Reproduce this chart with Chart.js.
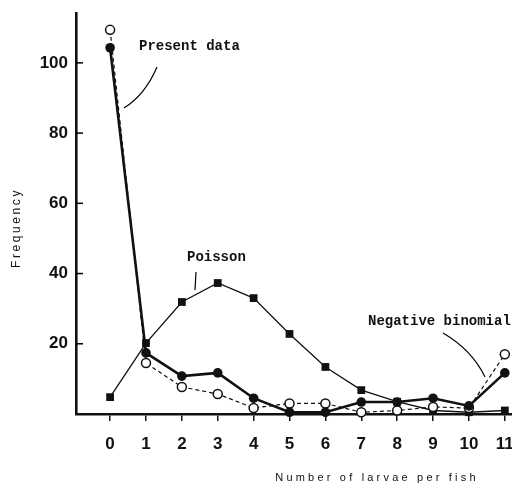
<!DOCTYPE html>
<html>
<head>
<meta charset="utf-8">
<script src="https://cdn.jsdelivr.net/npm/chart.js@4/dist/chart.umd.min.js"></script>
<style>
  html, body { margin: 0; padding: 0; background: #fff; overflow: hidden; }
  #chart { display: block; }
</style>
</head>
<body>
<canvas id="chart" width="518" height="487"></canvas>
<script>
// --- DATA ---
const larvae = [0, 1, 2, 3, 4, 5, 6, 7, 8, 9, 10, 11];
const presentData = [104.3, 17.4, 10.8, 11.7, 4.5, 0.5, 0.5, 3.4, 3.4, 4.5, 2.3, 11.7];
const negBinomial = [109.4, 14.5, 7.7, 5.7, 1.7, 3.0, 3.0, 0.5, 1.0, 2.0, 1.7, 17.0];
const poisson = [4.8, 20.2, 31.9, 37.3, 33.0, 22.8, 13.4, 6.8, 3.5, 1.0, 0.5, 1.0];
const yTicks = [20, 40, 60, 80, 100];
const xTicks = larvae;

const toPoints = (vals) => vals.map((v, i) => ({ x: larvae[i], y: v }));

// Helper: draw spaced text (axis titles look typewritten)
function spacedText(ctx, text, x, y, spacing) {
    ctx.letterSpacing = spacing + 'px';
    ctx.fillText(text, x, y);
    ctx.letterSpacing = '0px';
}

// Inside ticks on the y axis, annotations and axis titles
const decorations = {
    id: 'decorations',
    afterDraw(chart) {
        const ctx = chart.ctx;
        const y = chart.scales.y;
        const left = chart.chartArea.left;
        ctx.save();
        ctx.strokeStyle = '#000';
        ctx.lineWidth = 1.5;
        yTicks.forEach(v => {
            const py = y.getPixelForValue(v);
            ctx.beginPath();
            ctx.moveTo(left, py);
            ctx.lineTo(left + 7, py);
            ctx.stroke();
        });

        // labels
        ctx.fillStyle = '#111';
        ctx.font = 'bold 14px "Liberation Mono"';
        ctx.textBaseline = 'middle';
        ctx.textAlign = 'left';
        ctx.fillText('Present data', 139, 46);
        ctx.fillText('Poisson', 187, 257);
        ctx.fillText('Negative binomial', 368, 321);

        // leader lines
        ctx.lineWidth = 1.2;
        ctx.beginPath();
        ctx.moveTo(157, 67);
        ctx.quadraticCurveTo(145, 95, 124, 108);
        ctx.stroke();

        ctx.beginPath();
        ctx.moveTo(196, 272);
        ctx.lineTo(195, 290);
        ctx.stroke();

        ctx.beginPath();
        ctx.moveTo(443, 333);
        ctx.quadraticCurveTo(472, 350, 485, 377);
        ctx.stroke();

        // axis titles
        ctx.font = '11px "Liberation Sans"';
        ctx.textAlign = 'center';
        spacedText(ctx, 'Number of larvae per fish', 377, 478, 3.2);

        ctx.translate(17, 228);
        ctx.rotate(-Math.PI / 2);
        ctx.font = '12px "Liberation Sans"';
        spacedText(ctx, 'Frequency', 0, 0, 2.6);
        ctx.restore();
    }
};

new Chart(document.getElementById('chart'), {
    type: 'line',
    data: {
        datasets: [
            {
                label: 'Poisson',
                data: toPoints(poisson),
                borderColor: '#111',
                borderWidth: 1.3,
                pointStyle: 'rect',
                pointRadius: 5.5,
                pointBackgroundColor: '#111',
                pointBorderWidth: 0,
                clip: false,
                order: 3
            },
            {
                label: 'Negative binomial',
                data: toPoints(negBinomial),
                borderColor: '#111',
                borderWidth: 1.2,
                borderDash: [4, 3],
                pointStyle: 'circle',
                pointRadius: 4.5,
                pointBackgroundColor: '#fff',
                pointBorderColor: '#111',
                pointBorderWidth: 1.5,
                clip: false,
                order: 2
            },
            {
                label: 'Present data',
                data: toPoints(presentData),
                borderColor: '#111',
                borderWidth: 2.6,
                pointStyle: 'circle',
                pointRadius: 4.8,
                pointBackgroundColor: '#111',
                pointBorderWidth: 0,
                clip: false,
                order: 1
            }
        ]
    },
    options: {
        responsive: false,
        animation: false,
        devicePixelRatio: 1,
        layout: { padding: { top: 13, right: 0, left: 0, bottom: 0 } },
        plugins: {
            legend: { display: false },
            tooltip: { enabled: false }
        },
        scales: {
            x: {
                type: 'linear',
                min: -0.95,
                max: 11.2,
                afterBuildTicks: (s) => { s.ticks = xTicks.map(v => ({ value: v })); },
                afterFit: (s) => {
                    s.height = 73;
                    s.paddingLeft = 0;
                    s.paddingRight = 0;
                },
                grid: {
                    drawOnChartArea: false,
                    drawTicks: true,
                    tickLength: 7,
                    color: '#111',
                    lineWidth: 1.5
                },
                border: { display: true, color: '#111', width: 2.6 },
                ticks: {
                    color: '#111',
                    padding: 13,
                    maxRotation: 0,
                    autoSkip: false,
                    font: { family: '"Liberation Sans"', weight: 'bold', size: 17 }
                }
            },
            y: {
                min: 0,
                max: 114.2,
                afterBuildTicks: (s) => { s.ticks = yTicks.map(v => ({ value: v })); },
                afterFit: (s) => {
                    s.width = 76;
                    s.paddingTop = 0;
                    s.paddingBottom = 0;
                },
                grid: { display: false, drawTicks: false },
                border: { display: true, color: '#111', width: 2.6 },
                ticks: {
                    color: '#111',
                    padding: 8,
                    font: { family: '"Liberation Sans"', weight: 'bold', size: 17 }
                }
            }
        }
    },
    plugins: [decorations]
});
</script>
</body>
</html>
